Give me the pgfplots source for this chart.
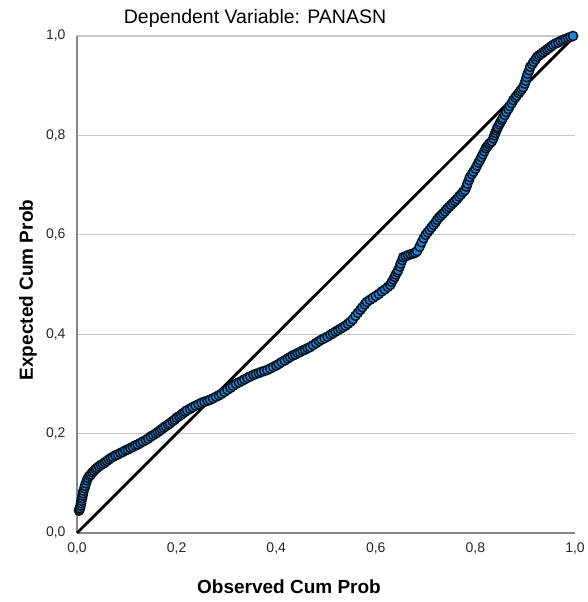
\documentclass[border=0pt]{standalone}
\usepackage{fontspec}
\setmainfont{Liberation Sans}
\usepackage{pgfplots}
\pgfplotsset{compat=1.18}
\definecolor{ptfill}{RGB}{30,136,222}
\definecolor{ptedge}{RGB}{8,20,32}
\definecolor{gridgray}{RGB}{200,200,200}
\definecolor{spinegray}{RGB}{135,135,135}

\pgfplotstableread{
obs exp
0.004 0.045
0.005 0.048
0.006 0.050
0.007 0.055
0.008 0.060
0.009 0.065
0.010 0.070
0.011 0.075
0.012 0.080
0.013 0.085
0.015 0.090
0.016 0.095
0.018 0.100
0.020 0.106
0.022 0.111
0.025 0.115
0.028 0.118
0.031 0.122
0.034 0.125
0.037 0.128
0.040 0.131
0.044 0.134
0.048 0.137
0.052 0.139
0.056 0.142
0.060 0.145
0.064 0.148
0.068 0.151
0.072 0.153
0.077 0.156
0.082 0.158
0.087 0.161
0.092 0.163
0.097 0.166
0.102 0.168
0.107 0.171
0.112 0.173
0.117 0.176
0.122 0.178
0.127 0.181
0.132 0.184
0.138 0.187
0.143 0.190
0.148 0.194
0.153 0.197
0.158 0.200
0.162 0.203
0.166 0.206
0.170 0.209
0.174 0.212
0.178 0.215
0.183 0.218
0.187 0.221
0.192 0.225
0.196 0.228
0.200 0.232
0.205 0.235
0.209 0.238
0.213 0.241
0.217 0.244
0.221 0.247
0.227 0.250
0.232 0.253
0.238 0.256
0.244 0.259
0.250 0.262
0.256 0.264
0.262 0.266
0.267 0.268
0.273 0.271
0.279 0.274
0.285 0.277
0.290 0.280
0.296 0.284
0.302 0.288
0.308 0.292
0.313 0.296
0.319 0.300
0.325 0.303
0.331 0.306
0.336 0.309
0.342 0.312
0.348 0.315
0.354 0.318
0.359 0.320
0.365 0.322
0.370 0.324
0.376 0.326
0.382 0.328
0.388 0.331
0.394 0.334
0.400 0.337
0.405 0.340
0.411 0.344
0.417 0.347
0.423 0.351
0.428 0.354
0.433 0.357
0.438 0.359
0.443 0.362
0.448 0.364
0.453 0.367
0.458 0.369
0.463 0.372
0.468 0.374
0.474 0.378
0.480 0.382
0.486 0.386
0.491 0.389
0.497 0.392
0.503 0.395
0.509 0.399
0.514 0.402
0.519 0.405
0.524 0.408
0.529 0.411
0.534 0.414
0.539 0.417
0.544 0.421
0.549 0.425
0.554 0.430
0.559 0.437
0.564 0.443
0.569 0.449
0.573 0.454
0.578 0.460
0.582 0.465
0.588 0.469
0.594 0.473
0.600 0.477
0.606 0.481
0.612 0.486
0.618 0.490
0.624 0.495
0.629 0.499
0.632 0.505
0.635 0.510
0.638 0.515
0.640 0.520
0.643 0.525
0.645 0.529
0.648 0.536
0.650 0.542
0.653 0.549
0.655 0.555
0.660 0.557
0.665 0.559
0.670 0.561
0.675 0.562
0.679 0.564
0.683 0.567
0.688 0.576
0.692 0.585
0.696 0.593
0.700 0.600
0.704 0.605
0.708 0.610
0.712 0.615
0.716 0.620
0.720 0.625
0.723 0.630
0.727 0.635
0.731 0.639
0.735 0.643
0.739 0.647
0.743 0.652
0.747 0.656
0.751 0.660
0.755 0.664
0.759 0.668
0.763 0.672
0.767 0.677
0.771 0.681
0.775 0.686
0.779 0.690
0.782 0.697
0.784 0.703
0.787 0.710
0.789 0.716
0.793 0.722
0.796 0.727
0.800 0.733
0.803 0.739
0.806 0.745
0.809 0.750
0.812 0.756
0.815 0.762
0.818 0.768
0.821 0.774
0.824 0.778
0.827 0.782
0.830 0.785
0.833 0.788
0.836 0.794
0.838 0.800
0.840 0.805
0.842 0.810
0.844 0.814
0.845 0.817
0.848 0.822
0.850 0.826
0.853 0.831
0.855 0.835
0.859 0.841
0.862 0.847
0.866 0.853
0.869 0.859
0.873 0.865
0.876 0.871
0.880 0.876
0.883 0.880
0.887 0.885
0.890 0.889
0.893 0.893
0.896 0.897
0.899 0.904
0.901 0.910
0.903 0.917
0.905 0.924
0.908 0.931
0.910 0.938
0.914 0.943
0.917 0.948
0.921 0.953
0.924 0.958
0.928 0.961
0.932 0.964
0.936 0.967
0.940 0.970
0.944 0.973
0.948 0.976
0.952 0.979
0.956 0.982
0.961 0.985
0.966 0.987
0.971 0.990
0.976 0.992
0.981 0.994
0.986 0.996
0.991 0.998
0.996 1.000
}\pppoints

\begin{document}
\begin{tikzpicture}
\useasboundingbox (-77pt,-69pt) rectangle (511pt,533pt);
\begin{axis}[
    at={(0,0)}, anchor=south west,
    width=498pt, height=497pt,
    scale only axis,
    xmin=0, xmax=1, ymin=0, ymax=1,
    xtick={0,0.2,...,1}, ytick={0,0.2,...,1},
    /pgf/number format/.cd, use comma, fixed, fixed zerofill, precision=1, assume math mode=true,
    /pgfplots/.cd,
    ticklabel style={font=\fontsize{14}{16}\selectfont, text=black!85},
    xticklabel style={yshift=-6pt},
    yticklabel style={xshift=-8pt},
    major tick length=0pt,
    axis x line*=bottom, axis y line*=left,
    axis line style={draw=spinegray, line width=1.3pt, -},
    ymajorgrids,
    grid style={draw=gridgray, line width=1.2pt},
    clip=false,
]
\addplot[black, line width=2.8pt] coordinates {(0,0) (1,1)};
\addplot[only marks, mark=*, mark size=4.6pt,
    mark options={fill=ptfill, draw=ptedge, line width=1.5pt}]
    table[x=obs, y=exp] {\pppoints};
\end{axis}
\node at (178pt,515pt) {\fontsize{19.5}{22}\selectfont Dependent Variable: PANASN};
\node at (212pt,-54pt) {\fontsize{19}{21}\selectfont\bfseries Observed Cum Prob};
\node[rotate=90] at (-49pt,243pt) {\fontsize{19}{21}\selectfont\bfseries Expected Cum Prob};
\end{tikzpicture}
\end{document}
